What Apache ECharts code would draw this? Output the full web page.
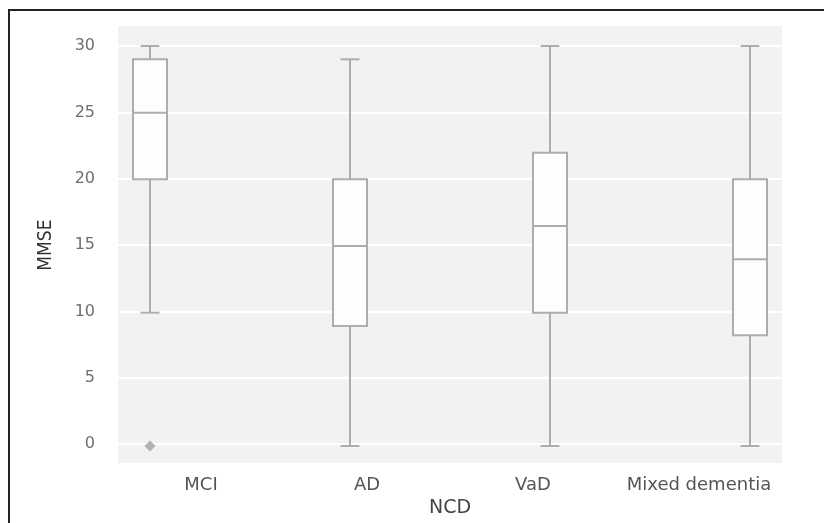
<!DOCTYPE html>
<html>
<head>
<meta charset="utf-8">
<script src="https://cdn.jsdelivr.net/npm/echarts@6/dist/echarts.min.js"></script>
<style>
  html, body { margin: 0; padding: 0; background: #ffffff; }
  #frame { position: absolute; left: 8px; top: 9px; width: 820px; height: 520px;
           border-left: 2px solid #222; border-top: 2px solid #222; }
  #chart { position: absolute; left: 0; top: 0; width: 824px; height: 523px; }
</style>
</head>
<body>
<div id="frame"></div>
<div id="chart"></div>
<script>
// ---- data ----
const categories = ['MCI', 'AD', 'VaD', 'Mixed dementia'];
const whiskerMin = [10, 0, 0, 0];
const quartile1  = [20, 9, 10, 8.3];
const medians    = [25, 15, 16.5, 14];
const quartile3  = [29, 20, 22, 20];
const whiskerMax = [30, 29, 30, 30];
const outliers   = [['MCI', 0]];
const yTicks     = [0, 5, 10, 15, 20, 25, 30];

const boxData = categories.map((c, i) =>
  [i, whiskerMin[i], quartile1[i], medians[i], quartile3[i], whiskerMax[i]]);
const outlierData = outliers.map(o => [categories.indexOf(o[0]), o[1]]);

const STROKE = '#adadad';

const chart = echarts.init(document.getElementById('chart'));
chart.setOption({
  animation: false,
  grid: [
    { left: 118, top: 26, width: 664, height: 437, show: true,
      backgroundColor: '#f2f2f2', borderWidth: 0, z: -1 },
    { left: 118, top: 46, width: 664, height: 400 },
    { left: 150, top: 46, width: 600, height: 400 }
  ],
  xAxis: [
    { gridIndex: 0, type: 'value', show: false },
    { gridIndex: 1, type: 'category', data: categories, boundaryGap: true,
      axisLine: { show: false }, axisTick: { show: false }, splitLine: { show: false },
      axisLabel: { interval: 0, margin: 32, color: '#555', fontSize: 18, fontFamily: 'DejaVu Sans' },
      name: 'NCD', nameLocation: 'middle', nameGap: 52,
      nameTextStyle: { color: '#444', fontSize: 19, fontFamily: 'DejaVu Sans' } },
    { gridIndex: 2, type: 'category', data: categories, boundaryGap: false, show: false }
  ],
  yAxis: [
    { gridIndex: 0, type: 'value', show: false },
    { gridIndex: 1, type: 'value', min: yTicks[0], max: yTicks[yTicks.length - 1], interval: 5,
      axisLine: { show: false }, axisTick: { show: false },
      splitLine: { show: true, lineStyle: { color: '#ffffff', width: 2 } },
      axisLabel: { margin: 23, color: '#6e6e6e', fontSize: 16, fontFamily: 'DejaVu Sans' },
      name: 'MMSE', nameLocation: 'middle', nameGap: 62, nameRotate: 90,
      nameTextStyle: { color: '#333', fontSize: 19,
        fontFamily: "'Liberation Sans Narrow', 'DejaVu Sans Condensed', 'Liberation Sans', sans-serif" } },
    { gridIndex: 2, type: 'value', min: yTicks[0], max: yTicks[yTicks.length - 1], show: false }
  ],
  series: [
    {
      type: 'custom', xAxisIndex: 2, yAxisIndex: 2, data: boxData,
      renderItem: function (params, api) {
        const x = api.value(0);
        const pMin = api.coord([x, api.value(1)]);
        const pQ1 = api.coord([x, api.value(2)]);
        const pMed = api.coord([x, api.value(3)]);
        const pQ3 = api.coord([x, api.value(4)]);
        const pMax = api.coord([x, api.value(5)]);
        const band = api.size([1, 0])[0];
        const hw = band * 0.085;
        const cw = band * 0.047;
        const ls = { stroke: STROKE, lineWidth: 2, fill: null };
        return { type: 'group', children: [
          { type: 'line', shape: { x1: pMax[0], y1: pMax[1], x2: pQ3[0], y2: pQ3[1] }, style: ls },
          { type: 'line', shape: { x1: pQ1[0], y1: pQ1[1], x2: pMin[0], y2: pMin[1] }, style: ls },
          { type: 'line', shape: { x1: pMax[0] - cw, y1: pMax[1], x2: pMax[0] + cw, y2: pMax[1] }, style: ls },
          { type: 'line', shape: { x1: pMin[0] - cw, y1: pMin[1], x2: pMin[0] + cw, y2: pMin[1] }, style: ls },
          { type: 'rect', shape: { x: pQ3[0] - hw, y: pQ3[1], width: hw * 2, height: pQ1[1] - pQ3[1] },
            style: { stroke: STROKE, lineWidth: 2, fill: '#fdfdfd' } },
          { type: 'line', shape: { x1: pMed[0] - hw, y1: pMed[1], x2: pMed[0] + hw, y2: pMed[1] }, style: ls }
        ]};
      }
    },
    {
      type: 'scatter', xAxisIndex: 2, yAxisIndex: 2, data: outlierData,
      symbol: 'diamond', symbolSize: 11, itemStyle: { color: '#a3a3a3' }
    }
  ]
});
</script>
</body>
</html>
